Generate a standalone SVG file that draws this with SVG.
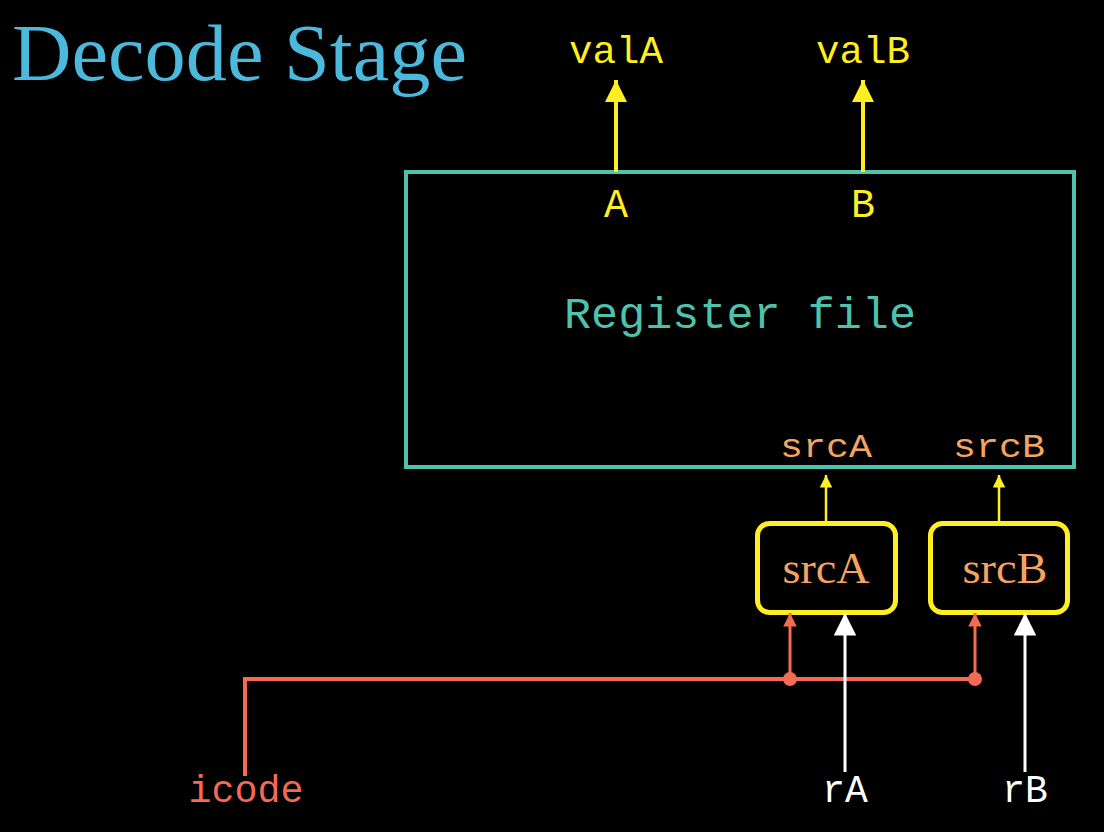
<svg xmlns="http://www.w3.org/2000/svg" width="1104" height="832" viewBox="0 0 1104 832">
<style>
.mono{font-family:"Liberation Mono","DejaVu Sans Mono",monospace;text-anchor:middle}
.serif{font-family:"Liberation Serif","DejaVu Serif",serif}
.y{fill:#ffee22}
.o{fill:#f4a462}
.r{fill:#f46a52}
.w{fill:#ffffff}
.t{fill:#4fc2ad}
</style>
<defs>
<marker id="hy" viewBox="0 0 10 10" refX="10" refY="5" markerWidth="5.5" markerHeight="5.5" orient="auto" markerUnits="strokeWidth"><path d="M0,0L10,5L0,10z" fill="#ffee22"/></marker>
<marker id="hys" viewBox="0 0 10 10" refX="10" refY="5" markerWidth="5" markerHeight="5" orient="auto" markerUnits="strokeWidth"><path d="M0,0L10,5L0,10z" fill="#ffee22"/></marker>
<marker id="hr" viewBox="0 0 10 10" refX="10" refY="5" markerWidth="4.5" markerHeight="4.5" orient="auto" markerUnits="strokeWidth"><path d="M0,0L10,5L0,10z" fill="#f46a52"/></marker>
<marker id="hw" viewBox="0 0 10 10" refX="10" refY="5" markerWidth="7.5" markerHeight="7.5" orient="auto" markerUnits="strokeWidth"><path d="M0,0L10,5L0,10z" fill="#ffffff"/></marker>
</defs>
<rect width="1104" height="832" fill="#000"/>
<text x="12" y="80" class="serif" font-size="80" fill="#4cb8dc" textLength="455" lengthAdjust="spacingAndGlyphs">Decode Stage</text>

<g id="regfile">
<rect x="406" y="172" width="668" height="295" fill="none" stroke="#4fc2ad" stroke-width="4"/>
<text x="740" y="328" class="mono t" font-size="44" textLength="352" lengthAdjust="spacingAndGlyphs">Register file</text>
<text x="616" y="217" class="mono y" font-size="40">A</text>
<text x="863" y="217" class="mono y" font-size="40">B</text>
<text x="826" y="457" class="mono o" font-size="34" textLength="92" lengthAdjust="spacingAndGlyphs">srcA</text>
<text x="999" y="457" class="mono o" font-size="34" textLength="92" lengthAdjust="spacingAndGlyphs">srcB</text>
</g>

<g id="muxA">
<rect x="757.5" y="523.5" width="138" height="89" rx="12" fill="none" stroke="#ffee22" stroke-width="5"/>
<text x="826" y="583" class="serif o" font-size="44" text-anchor="middle" textLength="87" lengthAdjust="spacingAndGlyphs">srcA</text>
</g>
<g id="muxB">
<rect x="930.5" y="523.5" width="137" height="89" rx="12" fill="none" stroke="#ffee22" stroke-width="5"/>
<text x="1005" y="583" class="serif o" font-size="44" text-anchor="middle" textLength="85" lengthAdjust="spacingAndGlyphs">srcB</text>
</g>

<g id="labels">
<text x="616" y="63" class="mono y" font-size="38" textLength="94" lengthAdjust="spacingAndGlyphs">valA</text>
<text x="863" y="63" class="mono y" font-size="38" textLength="94" lengthAdjust="spacingAndGlyphs">valB</text>
<text x="246" y="802" class="mono r" font-size="38" textLength="115" lengthAdjust="spacingAndGlyphs">icode</text>
<text x="845" y="802" class="mono w" font-size="38">rA</text>
<text x="1025" y="802" class="mono w" font-size="38">rB</text>
</g>

<g id="connectors" fill="none">
<line x1="616" y1="172" x2="616" y2="80" stroke="#ffee22" stroke-width="4" marker-end="url(#hy)"/>
<line x1="863" y1="172" x2="863" y2="80" stroke="#ffee22" stroke-width="4" marker-end="url(#hy)"/>
<line x1="826" y1="521" x2="826" y2="475" stroke="#ffee22" stroke-width="2.5" marker-end="url(#hys)"/>
<line x1="999" y1="521" x2="999" y2="475" stroke="#ffee22" stroke-width="2.5" marker-end="url(#hys)"/>
<polyline points="245,776 245,679 975,679" stroke="#f46a52" stroke-width="4"/>
<line x1="790" y1="679" x2="790" y2="613" stroke="#f46a52" stroke-width="3" marker-end="url(#hr)"/>
<line x1="975" y1="679" x2="975" y2="613" stroke="#f46a52" stroke-width="3" marker-end="url(#hr)"/>
<circle cx="790" cy="679" r="7" fill="#f46a52"/>
<circle cx="975" cy="679" r="7" fill="#f46a52"/>
<line x1="845" y1="772" x2="845" y2="613" stroke="#ffffff" stroke-width="3" marker-end="url(#hw)"/>
<line x1="1025" y1="772" x2="1025" y2="613" stroke="#ffffff" stroke-width="3" marker-end="url(#hw)"/>
</g>
</svg>
